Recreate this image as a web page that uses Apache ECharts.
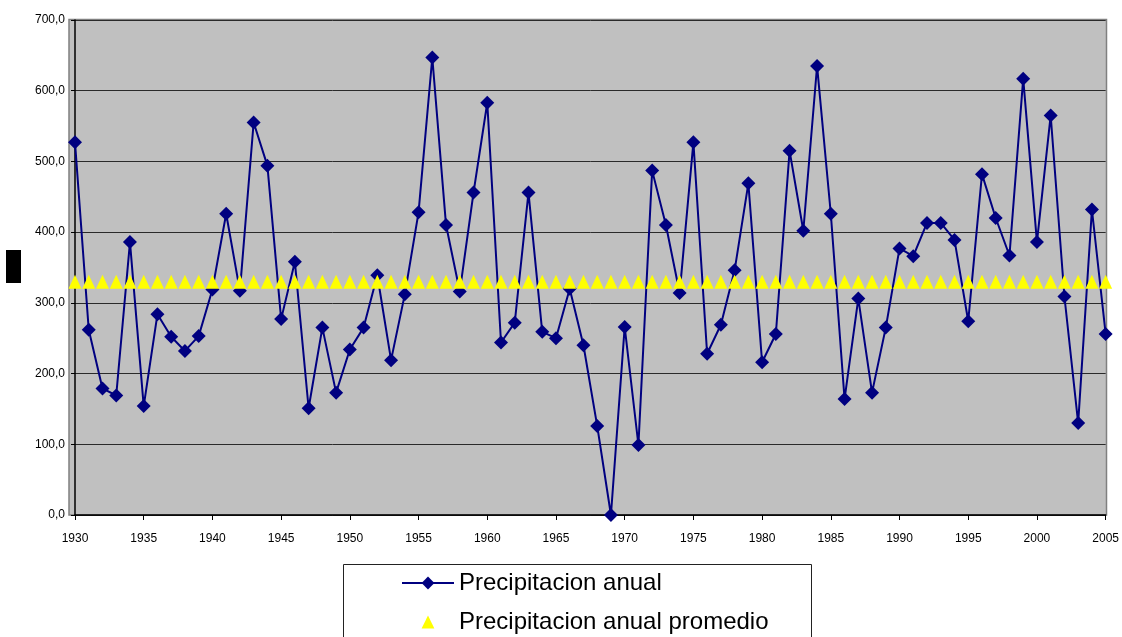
<!DOCTYPE html>
<html>
<head>
<meta charset="utf-8">
<style>
  html, body { margin: 0; padding: 0; background: #ffffff; }
  #chart { width: 1122px; height: 637px; }
</style>
<script src="https://cdn.jsdelivr.net/npm/echarts@6/dist/echarts.min.js"></script>
</head>
<body>
<div id="chart"></div>
<script>
// Years 1930 .. 2005
const years = [
  '1930','1931','1932','1933','1934','1935','1936','1937','1938','1939',
  '1940','1941','1942','1943','1944','1945','1946','1947','1948','1949',
  '1950','1951','1952','1953','1954','1955','1956','1957','1958','1959',
  '1960','1961','1962','1963','1964','1965','1966','1967','1968','1969',
  '1970','1971','1972','1973','1974','1975','1976','1977','1978','1979',
  '1980','1981','1982','1983','1984','1985','1986','1987','1988','1989',
  '1990','1991','1992','1993','1994','1995','1996','1997','1998','1999',
  '2000','2001','2002','2003','2004','2005'
];

// Annual precipitation (mm)
const annual = [
  527, 262, 179, 169, 386, 154, 284, 252, 232, 253,
  319, 426, 317, 555, 494, 277, 358, 151, 265, 173,
  234, 265, 339, 219, 312, 428, 647, 410, 316, 456,
  583, 244, 272, 456, 259, 250, 320, 240, 126, 0,
  266, 99, 487, 410, 314, 527, 228, 269, 346, 469,
  216, 256, 515, 402, 635, 426, 164, 306, 173, 265,
  377, 366, 413, 413, 389, 274, 482, 420, 367, 617,
  386, 565, 309, 130, 432, 256
];

// Mean annual precipitation
const meanValue = 330;
const mean = years.map(() => meanValue);

const seriesNames = ['Precipitacion anual', 'Precipitacion anual promedio'];

const fmt = v => v.toFixed(1).replace('.', ',');

const chart = echarts.init(document.getElementById('chart'), null, { renderer: 'canvas' });

chart.setOption({
  animation: false,
  backgroundColor: '#ffffff',
  textStyle: { fontFamily: '"Liberation Sans", Arial, sans-serif' },
  grid: { left: 75, right: 16, top: 20, bottom: 122, containLabel: false },
  graphic: [
    // plot area
    { type: 'rect', z: -10, silent: true,
      shape: { x: 69, y: 19.5, width: 1037.5, height: 495.5 },
      style: { fill: '#C0C0C0', stroke: '#808080', lineWidth: 1.5 } },
    // axis title placeholder block
    { type: 'rect', z: 5, silent: true,
      shape: { x: 6, y: 250, width: 15, height: 33 },
      style: { fill: '#000000' } },
    // legend frame
    { type: 'rect', z: 5, silent: true,
      shape: { x: 343.5, y: 564.5, width: 468, height: 120 },
      style: { fill: '#ffffff', stroke: '#222222', lineWidth: 1 } }
  ],
  legend: {
    orient: 'vertical',
    left: 401,
    top: 571,
    z: 10,
    itemWidth: 52,
    itemHeight: 16,
    itemGap: 15,
    padding: 0,
    textStyle: { fontSize: 24, lineHeight: 24, color: '#000000', fontFamily: '"Liberation Sans", Arial, sans-serif' },
    data: [
      { name: seriesNames[0] },
      { name: seriesNames[1], lineStyle: { opacity: 0, width: 0 } }
    ]
  },
  xAxis: {
    type: 'category',
    data: years,
    boundaryGap: false,
    axisLine: { show: true, lineStyle: { color: '#000000', width: 1.5 } },
    axisTick: { show: true, interval: 4, length: 5, lineStyle: { color: '#000000' } },
    axisLabel: { interval: 4, margin: 18, fontSize: 12, color: '#000000' },
    splitLine: { show: false }
  },
  yAxis: {
    type: 'value',
    min: 0,
    max: 700,
    interval: 100,
    axisLine: { show: true, lineStyle: { color: '#000000', width: 1.5 } },
    axisTick: { show: true, length: 4, lineStyle: { color: '#000000' } },
    axisLabel: { margin: 10, fontSize: 12, color: '#000000', formatter: fmt },
    splitLine: { show: true, lineStyle: { color: '#2a2a2a', width: 1 } }
  },
  series: [
    {
      name: seriesNames[0],
      type: 'line',
      data: annual,
      symbol: 'diamond',
      symbolSize: 14,
      showAllSymbol: true,
      itemStyle: { color: '#000080' },
      lineStyle: { color: '#000080', width: 2 },
      z: 3
    },
    {
      name: seriesNames[1],
      type: 'line',
      data: mean,
      symbol: 'triangle',
      symbolSize: [13, 14],
      showAllSymbol: true,
      itemStyle: { color: '#FFFF00' },
      lineStyle: { width: 0, opacity: 0 },
      z: 4
    }
  ]
});
</script>
</body>
</html>
